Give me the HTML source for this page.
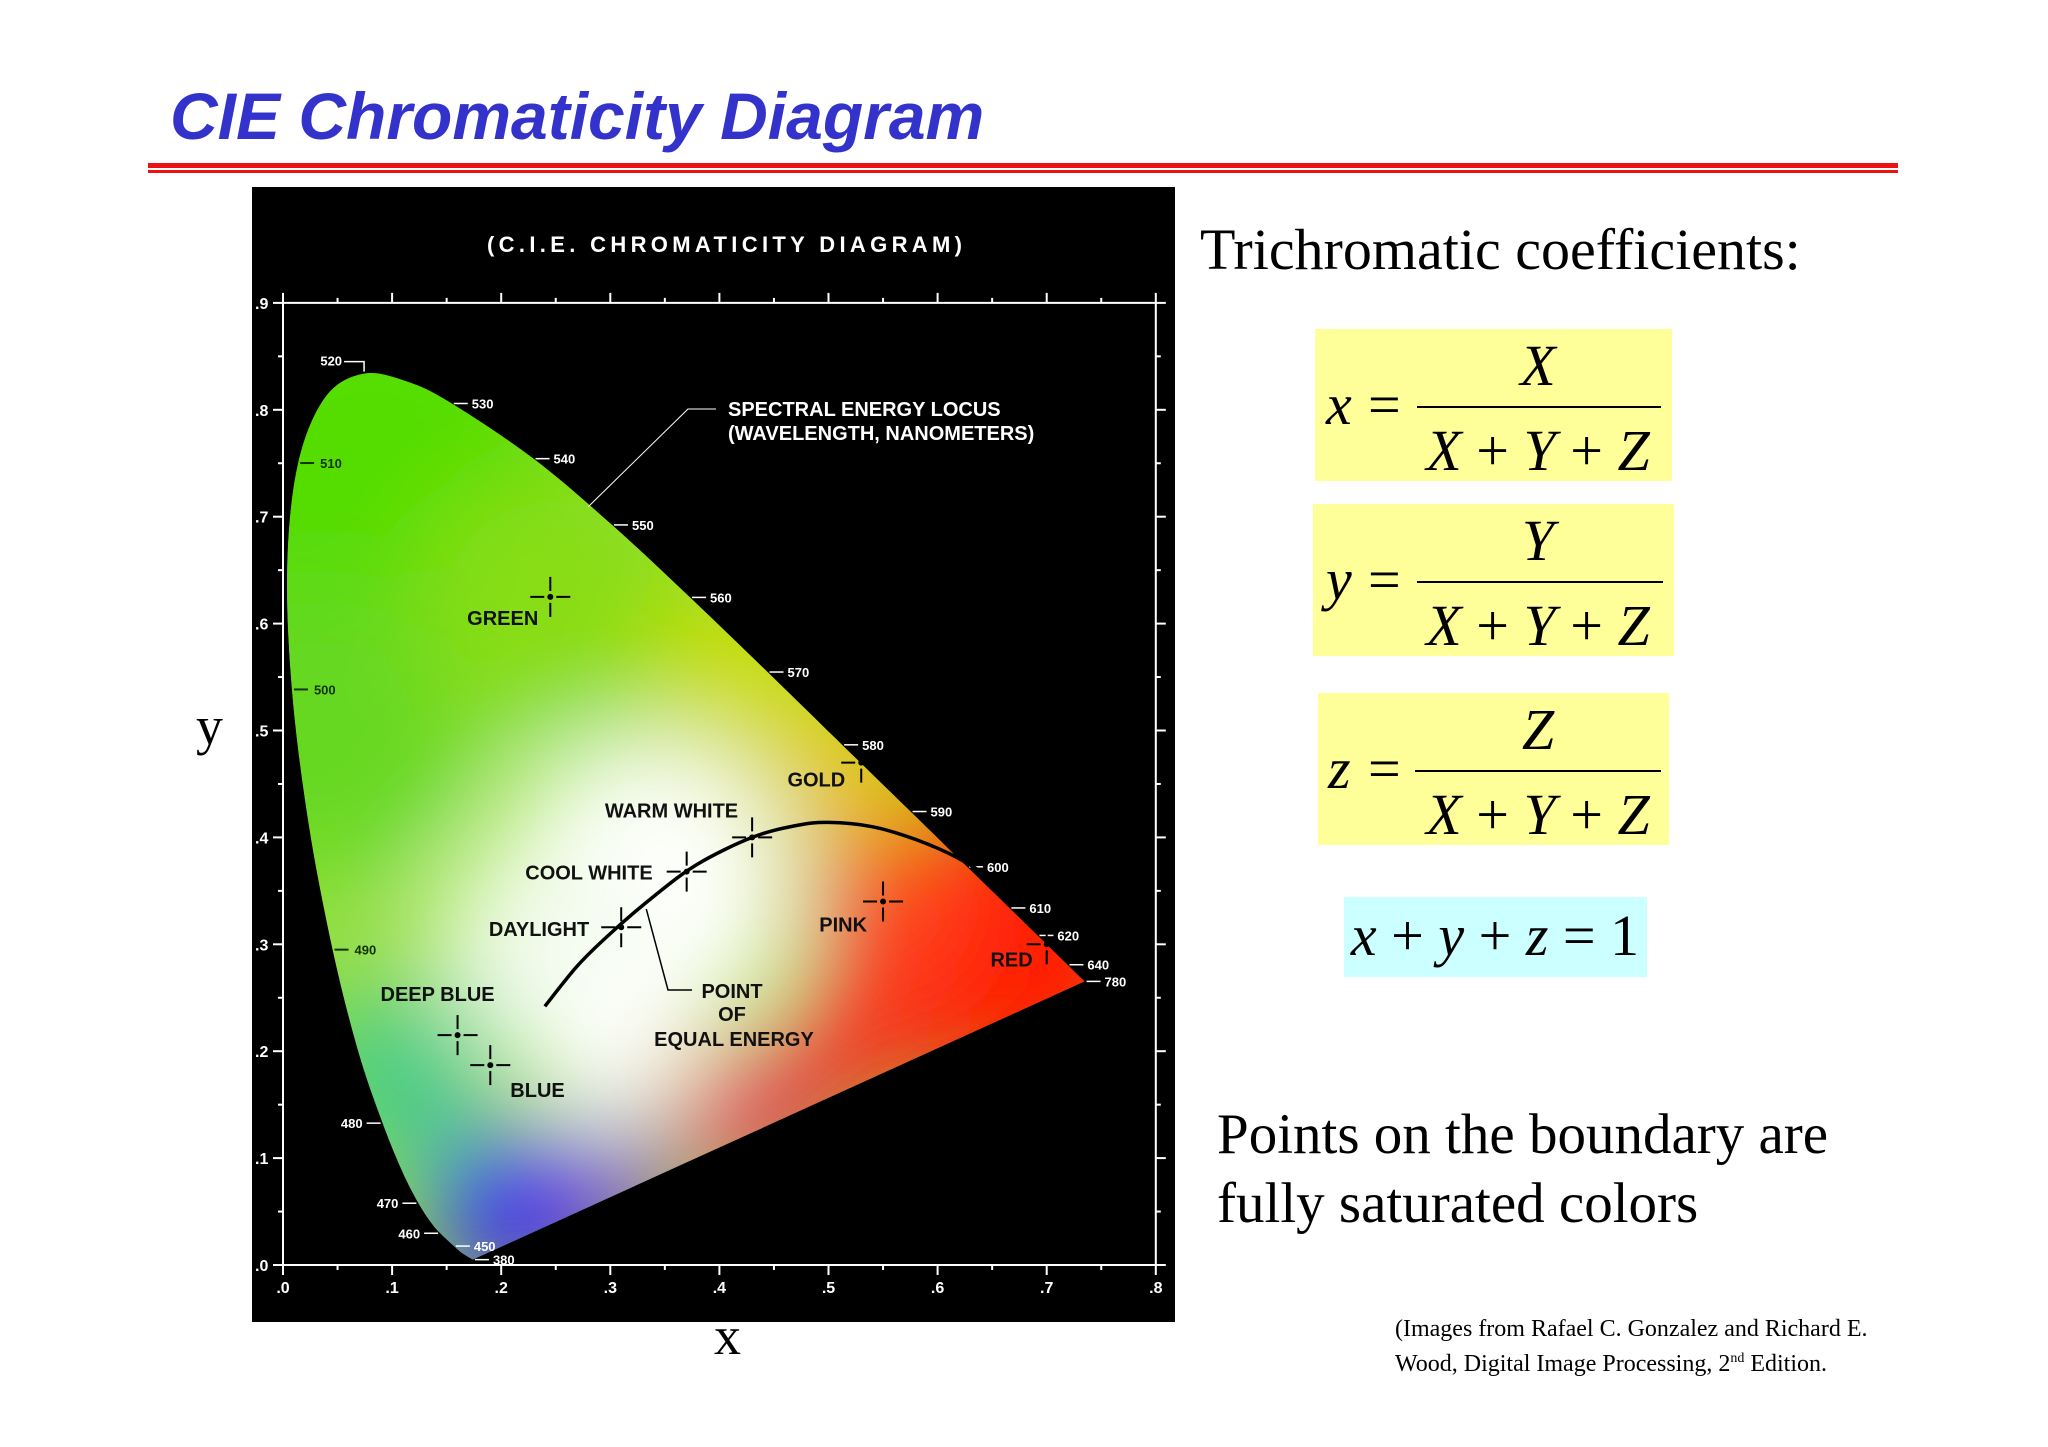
<!DOCTYPE html>
<html><head><meta charset="utf-8">
<style>
body{margin:0;background:#fff;width:2048px;height:1447px;overflow:hidden;position:relative;font-family:"Liberation Serif",serif}
.abs{position:absolute;white-space:nowrap}
.box{position:absolute;background:#ffff99}
</style></head>
<body>
<div class="abs" style="left:170px;top:78px;font:italic bold 66px 'Liberation Sans',sans-serif;color:#3333cc">CIE Chromaticity Diagram</div>
<div style="position:absolute;left:148px;top:163px;width:1750px;height:5px;background:#ee1111"></div>
<div style="position:absolute;left:148px;top:170px;width:1750px;height:3px;background:#ee1111"></div>

<svg style="position:absolute;left:0;top:0" width="2048" height="1447">
<defs>
<filter id="bl" x="-50%" y="-50%" width="200%" height="200%"><feGaussianBlur stdDeviation="50"/></filter>
<clipPath id="cl"><path id="clp"/></clipPath>
</defs>
<rect x="252" y="187" width="923" height="1135" fill="#000"/>
<text x="487" y="252" fill="#fff" font-family="Liberation Sans,sans-serif" font-size="22" font-weight="bold" textLength="475" lengthAdjust="spacing">(C.I.E. CHROMATICITY  DIAGRAM)</text>
<g id="fillg" clip-path="url(#cl)"></g>
<g id="axes" stroke="#fff" fill="none" stroke-width="2"></g>
<g id="labels" font-family="Liberation Sans,sans-serif" font-weight="bold"></g>
</svg>

<div class="abs" style="left:196px;top:695px;font-size:54px">y</div>
<div class="abs" style="left:714px;top:1305px;font-size:54px">x</div>

<div class="abs" style="left:1200px;top:216px;font-size:58px">Trichromatic coefficients:</div>

<div class="box" style="left:1315px;top:329px;width:357px;height:152px"></div>
<div class="box" style="left:1313px;top:504px;width:361px;height:152px"></div>
<div class="box" style="left:1318px;top:693px;width:351px;height:152px"></div>
<div class="box" style="left:1344px;top:897px;width:303px;height:80px;background:#ccffff"></div>

<svg style="position:absolute;left:0;top:0" width="2048" height="1447" font-family="Liberation Serif,serif" font-size="58">
<g>
<text x="1326" y="424" font-style="italic">x</text><text x="1368" y="424">=</text>
<text x="1538" y="385" font-style="italic" text-anchor="middle">X</text>
<line x1="1417" y1="407" x2="1661" y2="407" stroke="#000" stroke-width="2"/>
<text x="1538" y="470" text-anchor="middle"><tspan font-style="italic">X</tspan> + <tspan font-style="italic">Y</tspan> + <tspan font-style="italic">Z</tspan></text>
</g>
<g>
<text x="1326" y="599" font-style="italic">y</text><text x="1368" y="599">=</text>
<text x="1538" y="560" font-style="italic" text-anchor="middle">Y</text>
<line x1="1417" y1="582" x2="1663" y2="582" stroke="#000" stroke-width="2"/>
<text x="1538" y="645" text-anchor="middle"><tspan font-style="italic">X</tspan> + <tspan font-style="italic">Y</tspan> + <tspan font-style="italic">Z</tspan></text>
</g>
<g>
<text x="1328" y="788" font-style="italic">z</text><text x="1368" y="788">=</text>
<text x="1538" y="749" font-style="italic" text-anchor="middle">Z</text>
<line x1="1415" y1="771" x2="1661" y2="771" stroke="#000" stroke-width="2"/>
<text x="1538" y="834" text-anchor="middle"><tspan font-style="italic">X</tspan> + <tspan font-style="italic">Y</tspan> + <tspan font-style="italic">Z</tspan></text>
</g>
<text x="1495" y="955" text-anchor="middle"><tspan font-style="italic">x</tspan> + <tspan font-style="italic">y</tspan> + <tspan font-style="italic">z</tspan> = 1</text>
</svg>

<div class="abs" style="left:1217px;top:1100px;font-size:57px;line-height:69px">Points on the boundary are<br>fully saturated colors</div>
<div class="abs" style="left:1395px;top:1315px;font-size:24px;line-height:29px">(Images from Rafael C. Gonzalez and Richard E.<br>Wood, Digital Image Processing, 2<sup style="font-size:14px">nd</sup> Edition.</div>

<script>
const wavelengths=[380,440,450,460,465,470,475,480,485,490,495,500,505,510,515,520,525,530,540,550,560,570,580,590,600,610,620,640,780];
const locusX=[0.1741,0.1644,0.1566,0.1440,0.1355,0.1241,0.1096,0.0913,0.0687,0.0454,0.0235,0.0082,0.0039,0.0139,0.0389,0.0743,0.1142,0.1547,0.2296,0.3016,0.3731,0.4441,0.5125,0.5752,0.6270,0.6658,0.6915,0.7190,0.7347];
const locusY=[0.0050,0.0109,0.0177,0.0297,0.0399,0.0578,0.0868,0.1327,0.2007,0.2950,0.4127,0.5384,0.6548,0.7502,0.8120,0.8338,0.8262,0.8059,0.7543,0.6923,0.6245,0.5547,0.4866,0.4242,0.3725,0.3340,0.3083,0.2809,0.2653];
const labeledWl=[380,450,460,470,480,490,500,510,520,530,540,550,560,570,580,590,600,610,620,640,780];
const planckX=[0.24,0.27,0.30,0.34,0.38,0.43,0.47,0.50,0.54,0.58,0.62,0.663];
const planckY=[0.242,0.28,0.31,0.345,0.375,0.40,0.411,0.414,0.41,0.398,0.38,0.353];
const markerNames=["GREEN","GOLD","WARM  WHITE","COOL  WHITE","DAYLIGHT","PINK","RED","DEEP  BLUE","BLUE"];
const markerX=[0.245,0.53,0.43,0.37,0.31,0.55,0.70,0.16,0.19];
const markerY=[0.625,0.47,0.40,0.368,0.316,0.34,0.30,0.215,0.187];
const xTicks=[".0",".1",".2",".3",".4",".5",".6",".7",".8"];
const yTicks=[".0",".1",".2",".3",".4",".5",".6",".7",".8",".9"];

const X=v=>283+v*1091, Y=v=>1265-v*1069;
const NS="http://www.w3.org/2000/svg";
function mk(tag,parent,at){const e=document.createElementNS(NS,tag);for(const k in at)e.setAttribute(k,at[k]);parent.appendChild(e);return e;}
function smooth(xs,ys,closeLast){const p=xs.map((x,i)=>[X(x),Y(ys[i])]);let s="M"+p[0][0]+" "+p[0][1];
 for(let i=0;i<p.length-1;i++){const a=p[Math.max(0,i-1)],b=p[i],c=p[i+1],e=p[Math.min(p.length-1,i+2)];
  if(closeLast&&i==p.length-2){s+="L"+c[0]+" "+c[1];continue;}
  s+=`C${b[0]+(c[0]-a[0])/6} ${b[1]+(c[1]-a[1])/6} ${c[0]-(e[0]-b[0])/6} ${c[1]-(e[1]-b[1])/6} ${c[0]} ${c[1]}`;}
 return s;}
const d=smooth(locusX,locusY,false)+"Z";
document.getElementById('clp').setAttribute('d',d);
const fg=document.getElementById('fillg');
const base=mk('path',fg,{d:d,fill:'#99e040'});


const blobs=[[0.08,0.72,'#55dd00',220],[0.03,0.5,'#66d822',150],[0.25,0.62,'#88dd18',140],[0.42,0.54,'#ccdd00',100],[0.52,0.46,'#f0c000',70],[0.33,0.35,'#ffffff',150],[0.24,0.3,'#f2fbec',110],[0.67,0.30,'#ff1a00',150],[0.56,0.33,'#ff4422',80],[0.21,0.05,'#3322ff',80],[0.3,0.07,'#7733dd',60],[0.42,0.14,'#ee2266',65],[0.52,0.2,'#ff2222',65],[0.11,0.18,'#44cc88',90],[0.3,0.2,'#ffffff',80]];
const bg=mk('g',fg,{filter:'url(#bl)'});
blobs.forEach(b=>mk('circle',bg,{cx:X(b[0]),cy:Y(b[1]),r:b[3],fill:b[2]}));
const ax=document.getElementById('axes'), lb=document.getElementById('labels');
mk('path',ax,{d:`M${X(0)} ${Y(0.9)}V${Y(0)}H${X(0.8)}V${Y(0.9)}H${X(0)}`});
for(let i=0;i<=16;i++){const v=i*0.05,big=i%2==0?10:5;
 mk('line',ax,{x1:X(v),y1:Y(0),x2:X(v),y2:Y(0)+big});mk('line',ax,{x1:X(v),y1:Y(0.9),x2:X(v),y2:Y(0.9)-big});}
for(let i=0;i<=18;i++){const v=i*0.05,big=i%2==0?10:5;
 mk('line',ax,{x1:X(0),y1:Y(v),x2:X(0)-big,y2:Y(v)});mk('line',ax,{x1:X(0.8),y1:Y(v),x2:X(0.8)+big,y2:Y(v)});}
xTicks.forEach((t,i)=>{const e=mk('text',lb,{x:X(i*0.1),y:Y(0)+28,fill:'#fff','font-size':16,'text-anchor':'middle'});e.textContent=t;});
yTicks.forEach((t,i)=>{const e=mk('text',lb,{x:X(0)-28,y:Y(i*0.1)+6,fill:'#fff','font-size':16});e.textContent=t;});
labeledWl.forEach(w=>{const i=wavelengths.indexOf(w);const x=X(locusX[i]),y=Y(locusY[i]);
 const left=w>=460&&w<=510; const dx=left?-1:1;
 const inner=w>=490&&w<=510;
 if(inner){mk('line',ax,{x1:x+2,y1:y,x2:x+16,y2:y,'stroke-width':2,stroke:'#113300'});}
 else if(w==520){mk('path',ax,{d:`M${x-20} ${y-12}H${x}V${y-2}`,'stroke-width':1.5});}
 else mk('line',ax,{x1:x+dx*2,y1:y,x2:x+dx*16,y2:y,'stroke-width':1.5});
 const e=mk('text',lb,{x:x+dx*20,y:y+5,fill:'#fff','font-size':13,'text-anchor':left?'end':'start'});
 if(inner){e.setAttribute('x',x+22);e.setAttribute('text-anchor','start');e.setAttribute('fill','#113300');}
 if(w==520){e.setAttribute('x',x-22);e.setAttribute('y',y-8);e.setAttribute('text-anchor','end');}
 e.textContent=w;});
const pc=mk('path',ax,{d:smooth(planckX,planckY,false),stroke:'#000','stroke-width':3.5,'stroke-linejoin':'round'});


const lp=[[-12,28,'end'],[-16,24,'end'],[-14,-20,'end'],[-34,8,'end'],[-32,9,'end'],[-16,30,'end'],[-14,22,'end'],[-20,-34,'middle'],[20,32,'start']];
markerX.forEach((mx,i)=>{const x=X(mx),y=Y(markerY[i]);
 mk('path',ax,{d:`M${x-20} ${y}H${x-6}M${x+6} ${y}H${x+20}M${x} ${y-20}V${y-6}M${x} ${y+6}V${y+20}`,stroke:'#000','stroke-width':2});
 mk('circle',ax,{cx:x,cy:y,r:3,fill:'#000',stroke:'none'});
 const t=mk('text',lb,{x:x+lp[i][0],y:y+lp[i][1],'font-size':20,'text-anchor':lp[i][2],fill:'#111'});
 
 
 t.textContent=markerNames[i];});
mk('path',ax,{d:`M${X(0.333)} ${Y(0.333)}L668 990H692`,stroke:'#000','stroke-width':1.5});
[["POINT",732,998],["OF",732,1021],["EQUAL  ENERGY",734,1046]].forEach(a=>{const t=mk('text',lb,{x:a[1],y:a[2],'font-size':20,'text-anchor':'middle',fill:'#111'});t.textContent=a[0];});
mk('path',ax,{d:`M588 507L688 409H716`,stroke:'#fff','stroke-width':1});
const s1=mk('text',lb,{x:728,y:416,fill:'#fff','font-size':20});s1.textContent="SPECTRAL ENERGY LOCUS";
const s2=mk('text',lb,{x:728,y:440,fill:'#fff','font-size':20});s2.textContent="(WAVELENGTH, NANOMETERS)";
</script>
</body></html>
